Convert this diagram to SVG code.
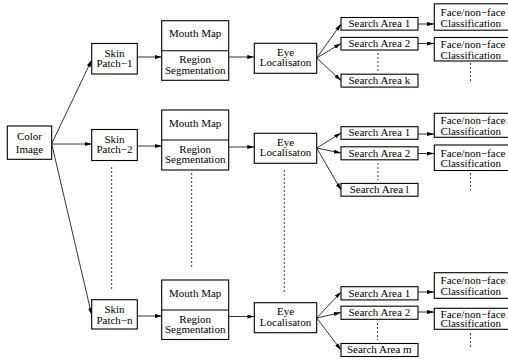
<svg xmlns="http://www.w3.org/2000/svg" width="508" height="360" viewBox="0 0 508 360" font-family="'Liberation Serif', 'Times New Roman', serif" font-size="11">
<style>
.box{fill:#fff;stroke:#000;stroke-width:1.1}
.ln{fill:none;stroke:#000;stroke-width:1.1}
.arr{fill:none;stroke:#000;stroke-width:0.8;marker-end:url(#ah)}
.dash{fill:none;stroke:#000;stroke-width:0.8;stroke-dasharray:2,2}
text{font-family:'Liberation Serif','Times New Roman',serif;font-size:11px;fill:#000}
.c{text-anchor:middle}
</style>
<defs>
<marker id="ah" markerUnits="userSpaceOnUse" markerWidth="7" markerHeight="4" refX="7" refY="2" orient="auto">
<path d="M0,0 L7,2 L0,4 z" fill="#000"/>
</marker>
</defs>
<g id="connectors">
<line class="arr" x1="52" y1="143" x2="91.7" y2="60"/>
<line class="arr" x1="52" y1="144" x2="91.7" y2="144"/>
<line class="arr" x1="52" y1="145" x2="91.7" y2="315"/>
<line class="arr" x1="137.3" y1="57" x2="161.7" y2="57"/>
<line class="arr" x1="137.3" y1="146" x2="161.7" y2="146"/>
<line class="arr" x1="137.3" y1="316" x2="161.7" y2="316"/>
<line class="arr" x1="228.7" y1="57" x2="254.3" y2="57"/>
<line class="arr" x1="228.7" y1="147" x2="254.3" y2="147"/>
<line class="arr" x1="228.7" y1="316.5" x2="254.3" y2="316.5"/>
<line class="arr" x1="316.7" y1="58" x2="341" y2="24"/>
<line class="arr" x1="316.7" y1="58" x2="341" y2="43.5"/>
<line class="arr" x1="316.7" y1="58" x2="341" y2="80.5"/>
<line class="arr" x1="316.7" y1="148" x2="341" y2="133"/>
<line class="arr" x1="316.7" y1="148" x2="341" y2="153"/>
<line class="arr" x1="316.7" y1="148" x2="341" y2="190"/>
<line class="arr" x1="316.7" y1="318" x2="341" y2="292"/>
<line class="arr" x1="316.7" y1="318" x2="341" y2="312.5"/>
<line class="arr" x1="316.7" y1="318" x2="341" y2="350"/>
<line class="arr" x1="418" y1="24" x2="434" y2="24"/>
<line class="arr" x1="418" y1="43.5" x2="434" y2="43.5"/>
<line class="arr" x1="418" y1="134" x2="434" y2="134"/>
<line class="arr" x1="418" y1="153.5" x2="434" y2="153.5"/>
<line class="arr" x1="418" y1="292" x2="434" y2="292"/>
<line class="arr" x1="418" y1="312" x2="434" y2="312"/>
<line class="dash" x1="111.7" y1="167" x2="111.7" y2="290"/>
<line class="dash" x1="191.7" y1="173" x2="191.7" y2="269"/>
<line class="dash" x1="284.3" y1="170" x2="284.3" y2="292"/>
<line class="dash" x1="378" y1="53" x2="378" y2="71"/>
<line class="dash" x1="470.5" y1="63" x2="470.5" y2="82"/>
<line class="dash" x1="378" y1="163" x2="378" y2="180"/>
<line class="dash" x1="470.5" y1="173" x2="470.5" y2="190"/>
<line class="dash" x1="377.5" y1="323" x2="377.5" y2="340"/>
<line class="dash" x1="470.5" y1="333" x2="470.5" y2="348"/>
</g>
<g id="color-image">
<rect class="box" x="7.3" y="126" width="44.4" height="33.3"/>
<text class="c" x="29.5" y="140">Color</text>
<text class="c" x="29.5" y="152.5">Image</text>
</g>
<g id="skin-1">
<rect class="box" x="91.7" y="43.5" width="45.6" height="30.5"/>
<text class="c" x="114.5" y="56.5">Skin</text>
<text class="c" x="114.5" y="66.8">Patch−1</text>
</g>
<g id="skin-2">
<rect class="box" x="91.7" y="129.5" width="45.6" height="31"/>
<text class="c" x="114.5" y="143">Skin</text>
<text class="c" x="114.5" y="153.3">Patch−2</text>
</g>
<g id="skin-n">
<rect class="box" x="91.7" y="299.7" width="45.6" height="29.3"/>
<text class="c" x="114.5" y="313">Skin</text>
<text class="c" x="114.5" y="323.5">Patch−n</text>
</g>
<g id="mouth-1">
<rect class="box" x="161.7" y="20.7" width="67" height="59.6"/>
<line class="ln" x1="161.7" y1="50.7" x2="228.7" y2="50.7"/>
<text class="c" x="195.2" y="37">Mouth Map</text>
<text class="c" x="195.2" y="63.2">Region</text>
<text class="c" x="195.2" y="73.5">Segmentation</text>
</g>
<g id="mouth-2">
<rect class="box" x="161.7" y="110" width="67" height="60"/>
<line class="ln" x1="161.7" y1="140" x2="228.7" y2="140"/>
<text class="c" x="195.2" y="126.5">Mouth Map</text>
<text class="c" x="195.2" y="152.5">Region</text>
<text class="c" x="195.2" y="162.8">Segmentation</text>
</g>
<g id="mouth-n">
<rect class="box" x="161.7" y="280" width="67" height="59.5"/>
<line class="ln" x1="161.7" y1="310" x2="228.7" y2="310"/>
<text class="c" x="195.2" y="296.5">Mouth Map</text>
<text class="c" x="195.2" y="322.5">Region</text>
<text class="c" x="195.2" y="332.8">Segmentation</text>
</g>
<g id="eye-1">
<rect class="box" x="254.3" y="43.3" width="62.4" height="30"/>
<text class="c" x="285.5" y="56">Eye</text>
<text class="c" x="285.5" y="66.3">Localisaton</text>
</g>
<g id="eye-2">
<rect class="box" x="254.3" y="133.3" width="62.4" height="30"/>
<text class="c" x="285.5" y="146">Eye</text>
<text class="c" x="285.5" y="156.3">Localisaton</text>
</g>
<g id="eye-n">
<rect class="box" x="254.3" y="302.7" width="62.4" height="30"/>
<text class="c" x="285.5" y="315.4">Eye</text>
<text class="c" x="285.5" y="325.7">Localisaton</text>
</g>
<g id="sa-1-1"><rect class="box" x="341" y="17.5" width="77" height="12.6"/><text class="c" x="379.3" y="27">Search Area 1</text></g>
<g id="sa-1-2"><rect class="box" x="341" y="37.4" width="77" height="12.6"/><text class="c" x="379.3" y="46.9">Search Area 2</text></g>
<g id="sa-1-k"><rect class="box" x="341" y="74.2" width="77" height="12.9"/><text class="c" x="379.3" y="83.8">Search Area k</text></g>
<g id="sa-2-1"><rect class="box" x="341" y="126.7" width="77" height="12.6"/><text class="c" x="379.3" y="136.2">Search Area 1</text></g>
<g id="sa-2-2"><rect class="box" x="341" y="146.8" width="77" height="13"/><text class="c" x="379.3" y="156.5">Search Area 2</text></g>
<g id="sa-2-l"><rect class="box" x="341" y="183.4" width="77" height="12.8"/><text class="c" x="379.3" y="193">Search Area l</text></g>
<g id="sa-3-1"><rect class="box" x="341" y="286.7" width="77" height="13.2"/><text class="c" x="379.3" y="296.5">Search Area 1</text></g>
<g id="sa-3-2"><rect class="box" x="341" y="306.2" width="77" height="13.1"/><text class="c" x="379.3" y="316">Search Area 2</text></g>
<g id="sa-3-m"><rect class="box" x="341" y="343.5" width="77" height="13"/><text class="c" x="379.3" y="353.2">Search Area m</text></g>
<g id="face-1-1"><rect class="box" x="434.3" y="3.8" width="80" height="26.4"/><text x="440.6" y="16">Face/non−face</text><text x="440.6" y="26.8">Classification</text></g>
<g id="face-1-2"><rect class="box" x="434.3" y="37.5" width="80" height="23.5"/><text x="440.6" y="48">Face/non−face</text><text x="440.6" y="58.5">Classification</text></g>
<g id="face-2-1"><rect class="box" x="434.3" y="113.3" width="80" height="24"/><text x="440.6" y="124">Face/non−face</text><text x="440.6" y="134.5">Classification</text></g>
<g id="face-2-2"><rect class="box" x="434.3" y="145" width="80" height="25.5"/><text x="440.6" y="156.8">Face/non−face</text><text x="440.6" y="167.3">Classification</text></g>
<g id="face-3-1"><rect class="box" x="434.3" y="272.7" width="80" height="25.6"/><text x="440.6" y="284">Face/non−face</text><text x="440.6" y="294.7">Classification</text></g>
<g id="face-3-2"><rect class="box" x="434.3" y="308.3" width="80" height="21"/><text x="440.6" y="317.5">Face/non−face</text><text x="440.6" y="327.2">Classification</text></g>
</svg>
